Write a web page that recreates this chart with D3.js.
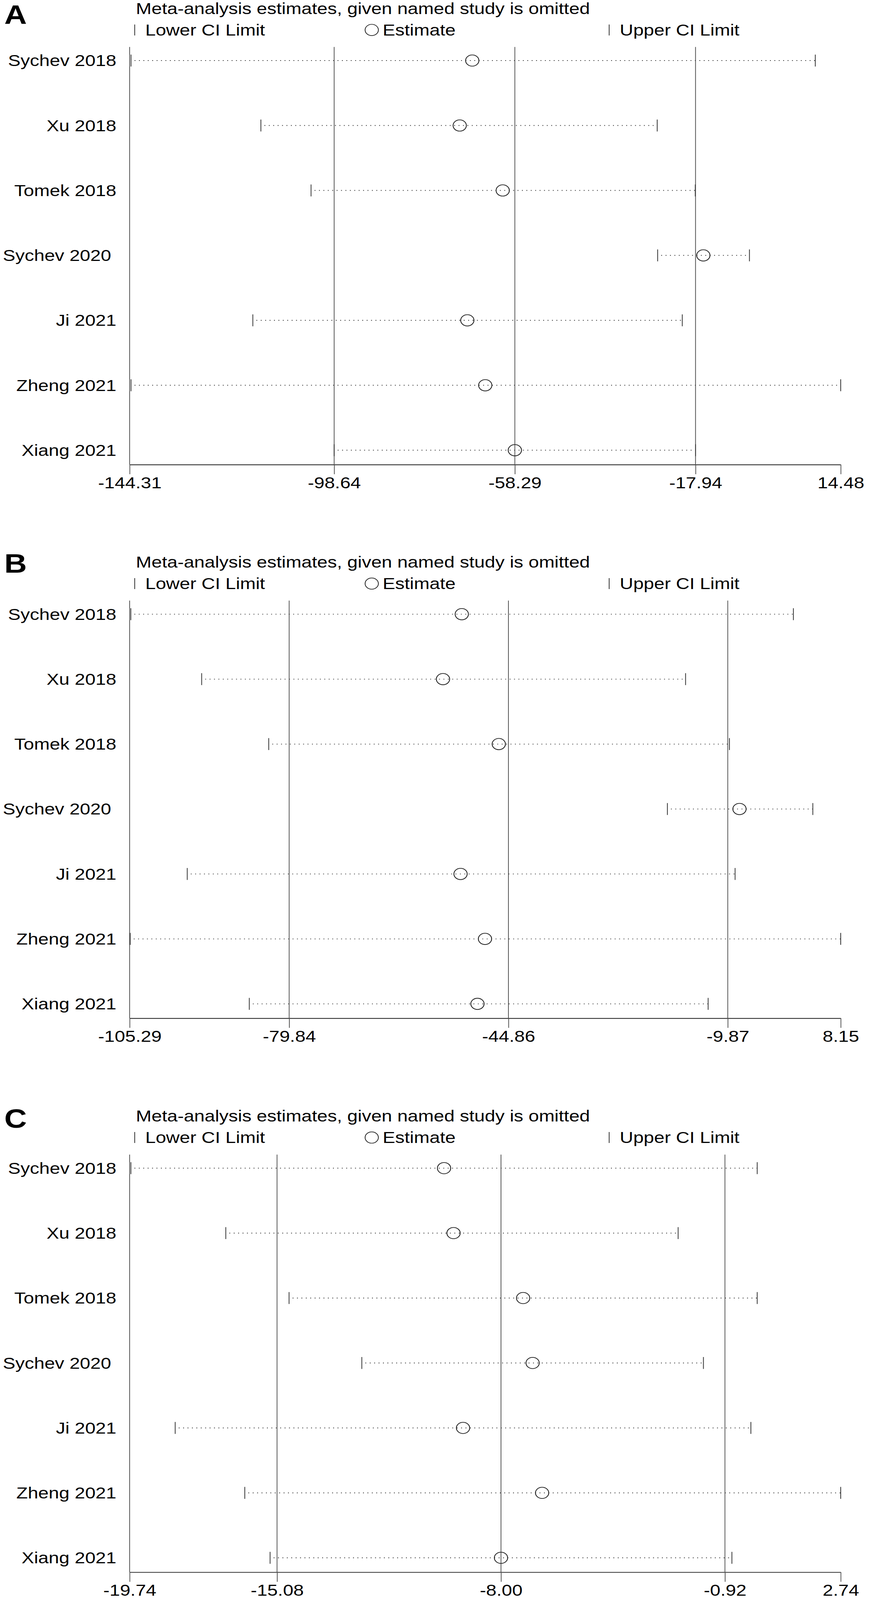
<!DOCTYPE html>
<html>
<head>
<meta charset="utf-8">
<script src="https://cdn.jsdelivr.net/npm/d3@7"></script>
<style>
  html, body { margin: 0; padding: 0; background: #fff; overflow: hidden; }
  svg { display: block; width: 100vw; height: 100vh; }
  text { font-family: "Liberation Sans", Arial, Helvetica, sans-serif; fill: #000; }
</style>
</head>
<body>
<svg id="chart" viewBox="0 0 2228 4835" preserveAspectRatio="none"></svg>
<script>
// ---- data ----
const studies = ["Sychev 2018", "Xu 2018", "Tomek 2018", "Sychev 2020 ", "Ji 2021", "Zheng 2021", "Xiang 2021"];
const panelLetters = ["A", "B", "C"];
const titleText = "Meta-analysis estimates, given named study is omitted";
const legendLabels = ["Lower CI Limit", "Estimate", "Upper CI Limit"];

const ticksA = [-144.31, -98.64, -58.29, -17.94, 14.48];
const lowerA = [-144.0, -115.0, -103.8, -26.4, -116.8, -144.0, -98.64];
const estA   = [-67.8, -70.6, -61.0, -16.2, -68.9, -64.9, -58.29];
const upperA = [8.8, -26.5, -18.0, -5.9, -20.9, 14.48, -17.94];

const ticksB = [-105.29, -79.84, -44.86, -9.87, 8.15];
const lowerB = [-105.1, -93.8, -83.1, -19.5, -96.1, -105.2, -86.2];
const estB   = [-52.3, -55.3, -46.4, -8.0, -52.5, -48.6, -49.8];
const upperB = [0.6, -16.6, -9.6, 3.7, -8.7, 8.15, -13.0];

const ticksC = [-19.74, -15.08, -8.00, -0.92, 2.74];
const lowerC = [-19.7, -16.7, -14.7, -12.4, -18.3, -16.1, -15.3];
const estC   = [-9.8, -9.5, -7.3, -7.0, -9.2, -6.7, -8.0];
const upperC = [0.1, -2.4, 0.1, -1.6, -0.1, 2.74, -0.7];

// ---- layout ----
const svg = d3.select("#chart");
svg.append("rect").attr("width", 2228).attr("height", 4835).attr("fill", "#fff");

const fmt = d3.formatLocale({decimal: ".", thousands: ",", grouping: [3], currency: ["", ""], minus: "-"}).format(".2f");

const panels = [
  {letter: panelLetters[0], ticks: ticksA, lower: lowerA, est: estA, upper: upperA, off: 0, letterY: 72},
  {letter: panelLetters[1], ticks: ticksB, lower: lowerB, est: estB, upper: upperB, off: 1673, letterY: 1731},
  {letter: panelLetters[2], ticks: ticksC, lower: lowerC, est: estC, upper: upperC, off: 3347, letterY: 3408}
];

const FS = 48;
const plotLeft = 332, plotRight = 2153;

panels.forEach(p => {
  const g = svg.append("g");
  const off = p.off;
  const x = d3.scaleLinear().domain([p.ticks[0], p.ticks[p.ticks.length - 1]]).range([plotLeft, plotRight]);
  const y = d3.scalePoint().domain(studies).range([183 + off, 1360.5 + off]);
  const plotTop = 142 + off, axisY = 1404 + off;

  // panel letter
  g.append("text").attr("x", 11).attr("y", p.letterY)
    .attr("font-size", 80).attr("font-weight", "bold").text(p.letter);

  // title
  g.append("text").attr("x", 348).attr("y", 42 + off).attr("font-size", FS).text(titleText);

  // legend
  const legY = 107 + off;
  g.append("line").attr("x1", 345).attr("x2", 345).attr("y1", legY - 33).attr("y2", legY)
    .attr("stroke", "#333").attr("stroke-width", 2);
  g.append("text").attr("x", 372).attr("y", legY).attr("font-size", FS).text(legendLabels[0]);
  g.append("circle").attr("cx", 952).attr("cy", legY - 16.5).attr("r", 17)
    .attr("fill", "none").attr("stroke", "#222").attr("stroke-width", 2);
  g.append("text").attr("x", 980).attr("y", legY).attr("font-size", FS).text(legendLabels[1]);
  g.append("line").attr("x1", 1560).attr("x2", 1560).attr("y1", legY - 33).attr("y2", legY)
    .attr("stroke", "#333").attr("stroke-width", 2);
  g.append("text").attr("x", 1587).attr("y", legY).attr("font-size", FS).text(legendLabels[2]);

  // full-height reference lines at the first four ticks
  g.selectAll("line.ref").data(p.ticks.slice(0, 4)).join("line").attr("class", "ref")
    .attr("x1", d => x(d)).attr("x2", d => x(d))
    .attr("y1", plotTop).attr("y2", axisY)
    .attr("stroke", "#555").attr("stroke-width", 2);

  // x axis
  const axis = d3.axisBottom(x).tickValues(p.ticks).tickFormat(fmt)
    .tickSize(29).tickSizeOuter(0).tickPadding(8);
  const ag = g.append("g").attr("transform", `translate(0,${axisY})`).call(axis);
  ag.select(".domain").attr("stroke", "#333").attr("stroke-width", 2.5);
  ag.selectAll(".tick line").attr("stroke", "#555").attr("stroke-width", 2);
  ag.selectAll(".tick text").attr("font-size", FS).attr("fill", "#000")
    .attr("font-family", "'Liberation Sans', Arial, sans-serif");

  // study labels
  g.selectAll("text.lab").data(studies).join("text").attr("class", "lab")
    .attr("x", 298).attr("y", d => y(d) + 17)
    .attr("text-anchor", "end").attr("font-size", FS)
    .style("white-space", "pre")
    .text(d => d);

  const rows = studies.map((s, i) => ({s, lo: p.lower[i], est: p.est[i], hi: p.upper[i]}));

  // dotted CI lines
  g.selectAll("line.ci").data(rows).join("line").attr("class", "ci")
    .attr("x1", d => x(d.lo)).attr("x2", d => x(d.hi))
    .attr("y1", d => y(d.s)).attr("y2", d => y(d.s))
    .attr("stroke", "#333").attr("stroke-width", 2.2)
    .attr("stroke-dasharray", "2.3 9").attr("stroke-dashoffset", 2.3);

  // CI end ticks
  g.selectAll("line.lo").data(rows).join("line").attr("class", "lo")
    .attr("x1", d => x(d.lo)).attr("x2", d => x(d.lo))
    .attr("y1", d => y(d.s) - 18).attr("y2", d => y(d.s) + 18)
    .attr("stroke", "#333").attr("stroke-width", 2);
  g.selectAll("line.hi").data(rows).join("line").attr("class", "hi")
    .attr("x1", d => x(d.hi)).attr("x2", d => x(d.hi))
    .attr("y1", d => y(d.s) - 18).attr("y2", d => y(d.s) + 18)
    .attr("stroke", "#333").attr("stroke-width", 2);

  // estimates
  g.selectAll("circle.est").data(rows).join("circle").attr("class", "est")
    .attr("cx", d => x(d.est)).attr("cy", d => y(d.s)).attr("r", 17)
    .attr("fill", "none").attr("stroke", "#222").attr("stroke-width", 2.2);
});
</script>
</body>
</html>
